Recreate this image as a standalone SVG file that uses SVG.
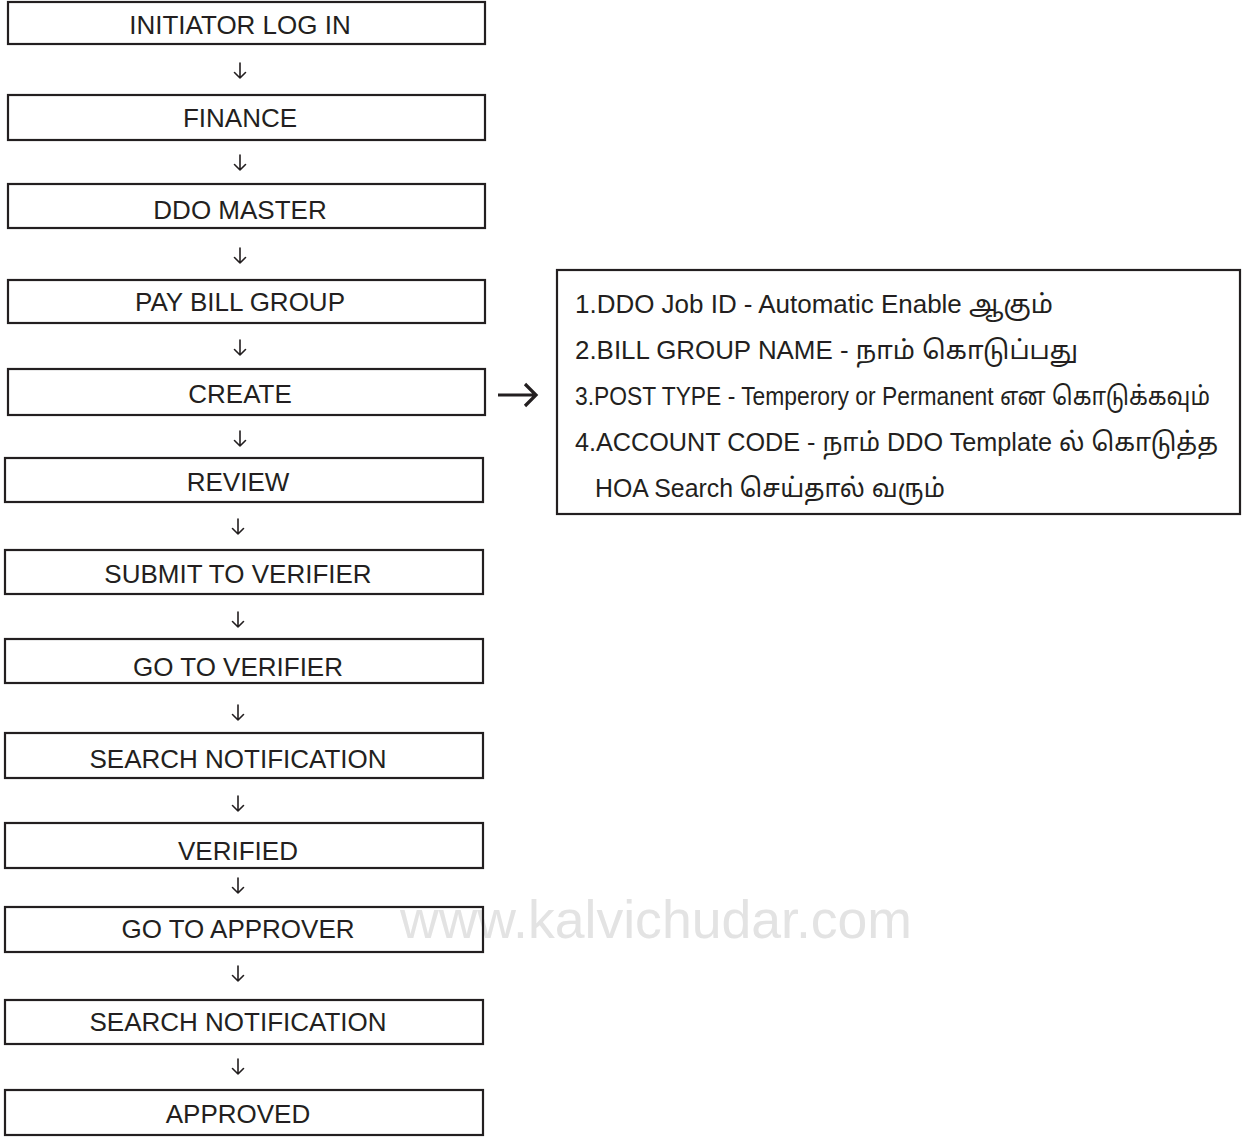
<svg xmlns="http://www.w3.org/2000/svg" width="1242" height="1137" viewBox="0 0 1242 1137">
<style>
.box{fill:none;stroke:#231f20;stroke-width:2.2}
.lbl{font-family:"Liberation Sans",Arial,sans-serif;font-size:26px;fill:#231f20;text-anchor:middle}
.note{font-family:"Liberation Sans",Arial,"Noto Sans Tamil","Noto Sans",sans-serif;font-size:26px;fill:#231f20}
.down{fill:none;stroke:#231f20;stroke-width:1.6;stroke-linecap:round;stroke-linejoin:round}
.wm{font-family:"Liberation Sans",Arial,sans-serif;font-size:54px;fill:#e3e3e3}
</style>
<rect width="1242" height="1137" fill="#ffffff"/>
<text class="wm" x="400" y="938" textLength="512" lengthAdjust="spacingAndGlyphs">www.kalvichudar.com</text>
<g id="n1"><rect class="box" x="8" y="2" width="477" height="42"/><text class="lbl" x="240" y="34">INITIATOR LOG IN</text></g>
<g id="n2"><rect class="box" x="8" y="95" width="477" height="45"/><text class="lbl" x="240" y="126.5">FINANCE</text></g>
<g id="n3"><rect class="box" x="8" y="184" width="477" height="44"/><text class="lbl" x="240" y="218.5">DDO MASTER</text></g>
<g id="n4"><rect class="box" x="8" y="280" width="477" height="43"/><text class="lbl" x="240" y="310.5">PAY BILL GROUP</text></g>
<g id="n5"><rect class="box" x="8" y="369" width="477" height="46"/><text class="lbl" x="240" y="402.5">CREATE</text></g>
<g id="n6"><rect class="box" x="5" y="458" width="478" height="44"/><text class="lbl" x="238" y="490.5">REVIEW</text></g>
<g id="n7"><rect class="box" x="5" y="550" width="478" height="44"/><text class="lbl" x="238" y="582.5">SUBMIT TO VERIFIER</text></g>
<g id="n8"><rect class="box" x="5" y="639" width="478" height="44"/><text class="lbl" x="238" y="675.5">GO TO VERIFIER</text></g>
<g id="n9"><rect class="box" x="5" y="733" width="478" height="45"/><text class="lbl" x="238" y="767.5">SEARCH NOTIFICATION</text></g>
<g id="n10"><rect class="box" x="5" y="823" width="478" height="45"/><text class="lbl" x="238" y="859.5">VERIFIED</text></g>
<g id="n11"><rect class="box" x="5" y="907" width="478" height="45"/><text class="lbl" x="238" y="937.5">GO TO APPROVER</text></g>
<g id="n12"><rect class="box" x="5" y="1000" width="478" height="44"/><text class="lbl" x="238" y="1030.5">SEARCH NOTIFICATION</text></g>
<g id="n13"><rect class="box" x="5" y="1090" width="478" height="45"/><text class="lbl" x="238" y="1122.5">APPROVED</text></g>
<g id="note">
<rect class="box" x="557" y="270" width="683" height="244"/>
<text class="note" x="575" y="313" textLength="478" lengthAdjust="spacingAndGlyphs">1.DDO Job ID - Automatic Enable ஆகும்</text>
<text class="note" x="575" y="359" textLength="503" lengthAdjust="spacingAndGlyphs">2.BILL GROUP NAME - நாம் கொடுப்பது</text>
<text class="note" transform="translate(575,405) scale(0.88,1)" x="0" y="0" textLength="721.6" lengthAdjust="spacingAndGlyphs">3.POST TYPE - Temperory or Permanent என கொடுக்கவும்</text>
<text class="note" transform="translate(575,451) scale(0.94,1)" x="0" y="0" textLength="684" lengthAdjust="spacingAndGlyphs">4.ACCOUNT CODE - நாம் DDO Template ல் கொடுத்த</text>
<text class="note" x="595" y="497" textLength="350" lengthAdjust="spacingAndGlyphs">HOA Search செய்தால் வரும்</text>
</g>
<g id="connectors">
<path class="down" d="M240,63 V78 M234.5,72.5 L240,78 L245.5,72.5"/>
<path class="down" d="M240,155 V170 M234.5,164.5 L240,170 L245.5,164.5"/>
<path class="down" d="M240,248 V263 M234.5,257.5 L240,263 L245.5,257.5"/>
<path class="down" d="M240,340 V355 M234.5,349.5 L240,355 L245.5,349.5"/>
<path class="down" d="M240,431 V446 M234.5,440.5 L240,446 L245.5,440.5"/>
<path class="down" d="M238,519 V534 M232.5,528.5 L238,534 L243.5,528.5"/>
<path class="down" d="M238,612 V627 M232.5,621.5 L238,627 L243.5,621.5"/>
<path class="down" d="M238,705 V720 M232.5,714.5 L238,720 L243.5,714.5"/>
<path class="down" d="M238,796 V811 M232.5,805.5 L238,811 L243.5,805.5"/>
<path class="down" d="M238,878 V893 M232.5,887.5 L238,893 L243.5,887.5"/>
<path class="down" d="M238,966 V981 M232.5,975.5 L238,981 L243.5,975.5"/>
<path class="down" d="M238,1059 V1074 M232.5,1068.5 L238,1074 L243.5,1068.5"/>
<path d="M498,395 H535 M525,384 L536,395 L525,406" fill="none" stroke="#231f20" stroke-width="3.2" stroke-linejoin="miter"/>
</g>
</svg>
